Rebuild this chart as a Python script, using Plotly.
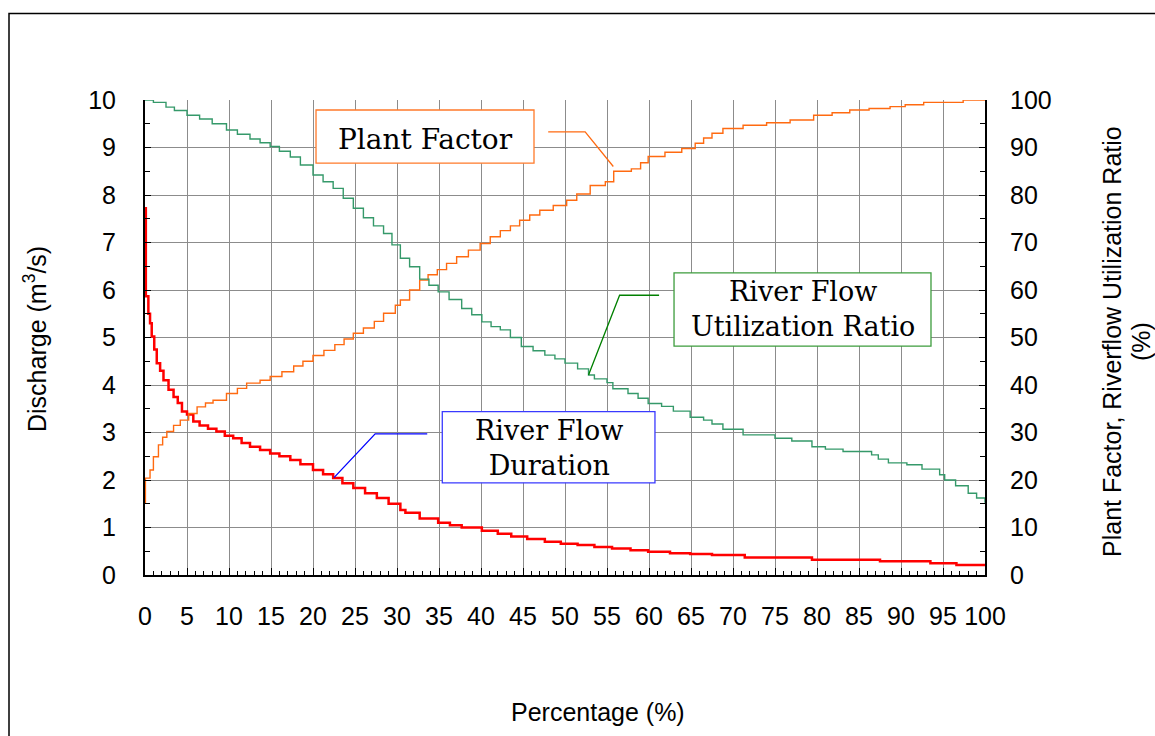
import plotly.graph_objects as go

# ---- data -------------------------------------------------------------
# River flow duration curve: exceedance percentage vs discharge (m3/s)
flow_pct = [0, 0.1, 0.4, 0.6, 0.8, 1.1, 1.4, 1.8, 2.2, 2.8, 3.4, 3.9, 4.4, 5.0,
            5.75, 6.5, 7.5, 8.5, 9.5, 10.5, 11.5, 12.5, 13.7, 14.9, 16.0, 17.3,
            18.5, 20.0, 21.2, 22.4, 23.5, 24.8, 26.2, 27.6, 29.0, 30.4, 31.0,
            32.7, 34.9, 36.3, 37.7, 40.1, 42.0, 43.6, 45.5, 47.6, 49.5, 51.5,
            53.5, 55.6, 57.8, 59.9, 62.5, 64.9, 67.5, 71.4, 79.4, 87.5, 93.5,
            96.6, 100]
flow_q = [7.72, 5.87, 5.5, 5.3, 5.02, 4.75, 4.46, 4.3, 4.1, 3.9, 3.75, 3.62,
          3.44, 3.38, 3.23, 3.15, 3.08, 3.02, 2.93, 2.88, 2.78, 2.7, 2.63,
          2.56, 2.5, 2.42, 2.33, 2.21, 2.12, 2.04, 1.93, 1.83, 1.72, 1.62,
          1.5, 1.37, 1.31, 1.19, 1.1, 1.05, 1.0, 0.93, 0.87, 0.81, 0.76, 0.7,
          0.66, 0.63, 0.59, 0.56, 0.52, 0.49, 0.46, 0.44, 0.42, 0.37, 0.32,
          0.29, 0.25, 0.21, 0.21]

# Plant factor (%)
pf_pct = [0, 0.05, 0.6, 1.0, 1.6, 2.1, 2.6, 3.4, 4.2, 5.2, 6.2, 7.2, 8.1, 9.7,
          11.0, 12.1, 13.7, 14.9, 16.3, 17.7, 18.8, 20.0, 21.3, 22.6, 23.7,
          24.8, 26.0, 27.3, 28.4, 29.8, 30.4, 31.5, 32.7, 33.7, 34.8, 35.9,
          37.1, 38.5, 39.9, 41.1, 42.3, 43.5, 44.6, 45.8, 47.0, 48.6, 50.2,
          51.4, 53.0, 54.8, 55.8, 57.9, 59.0, 59.9, 61.9, 63.9, 65.5, 66.5,
          67.5, 68.8, 71.2, 74.0, 76.8, 79.6, 81.8, 83.9, 86.2, 88.7, 90.5,
          92.7, 97.4, 100]
pf_val = [15.1, 20.4, 22.1, 24.9, 27.4, 29.0, 30.2, 31.5, 32.6, 34.0, 35.4,
          36.2, 36.8, 38.2, 39.3, 40.4, 41.0, 41.8, 42.8, 44.0, 45.0, 46.2,
          47.3, 48.5, 49.7, 50.9, 52.0, 53.4, 55.1, 56.8, 57.9, 60.0, 62.1,
          63.2, 64.3, 65.6, 67.0, 68.4, 69.8, 71.2, 72.5, 73.5, 74.7, 75.8,
          76.8, 77.8, 78.9, 80.2, 82.0, 82.8, 85.0, 85.5, 86.8, 88.1, 89.0,
          89.8, 90.9, 92.0, 93.0, 94.0, 94.7, 95.2, 95.8, 96.8, 97.3, 97.9,
          98.2, 98.6, 99.0, 99.5, 100.0, 100.0]

# River flow utilization ratio (%)
ur_pct = [0, 1.0, 2.5, 3.5, 5.0, 6.5, 8.0, 9.7, 11.0, 12.5, 13.7, 14.9, 16.0,
          17.3, 18.5, 20.0, 21.2, 22.4, 23.6, 24.8, 26.0, 27.2, 28.4, 29.4,
          30.4, 31.5, 32.7, 33.8, 34.9, 36.2, 37.7, 38.9, 40.1, 41.2, 42.3,
          43.5, 44.8, 46.2, 47.6, 48.8, 50.0, 51.5, 52.8, 53.5, 55.0, 55.7,
          57.5, 58.7, 59.9, 61.5, 62.9, 64.9, 66.5, 67.5, 68.8, 71.2, 75.0,
          77.0, 79.4, 81.0, 83.1, 86.5, 87.3, 88.5, 90.7, 92.5, 94.6, 95.2,
          96.5, 98.0, 99.0, 100]
ur_val = [100, 99.5, 98.5, 97.8, 96.8, 96.0, 95.0, 93.7, 92.8, 91.8, 91.0,
          90.2, 89.2, 88.0, 86.3, 84.2, 82.8, 81.4, 79.3, 77.2, 75.2, 73.5,
          71.9, 69.5, 66.7, 64.9, 62.3, 61.0, 59.6, 58.0, 56.1, 54.8, 53.3,
          52.3, 51.6, 50.0, 48.1, 47.2, 46.3, 45.5, 44.6, 43.4, 42.1, 41.3,
          40.5, 39.2, 38.2, 37.2, 36.1, 35.5, 34.5, 33.2, 32.6, 31.8, 30.7,
          29.5, 28.8, 28.2, 27.0, 26.5, 26.0, 25.3, 24.4, 23.6, 23.2, 22.3,
          21.1, 20.0, 18.8, 17.2, 16.2, 15.2]

x_ticks = list(range(0, 101, 5))
left_ticks = list(range(0, 11))
right_ticks = list(range(0, 101, 10))

# ---- layout geometry ----------------------------------------------------
W, H = 1155, 736
L, R, T, B = 145, 170, 100, 161
PW, PH = W - L - R, H - T - B


def px(X):
    return (X - L) / PW


def py(Y):
    return (H - B - Y) / PH


SANS = "Liberation Sans, Arial, sans-serif"
SERIF = "DejaVu Serif, serif"
GRID = "#8c8c8c"

fig = go.Figure()
fig.add_trace(go.Scatter(x=flow_pct, y=flow_q, mode="lines", line_shape="hv",
                         line=dict(color="#ff0000", width=2.5),
                         name="River Flow Duration", yaxis="y"))
fig.add_trace(go.Scatter(x=pf_pct, y=pf_val, mode="lines", line_shape="hv",
                         line=dict(color="#ff6a10", width=1.4),
                         name="Plant Factor", yaxis="y2"))
fig.add_trace(go.Scatter(x=ur_pct, y=ur_val, mode="lines", line_shape="hv",
                         line=dict(color="#35996a", width=1.4),
                         name="River Flow Utilization Ratio", yaxis="y2"))

tickfont = dict(family=SANS, size=25, color="black")

fig.update_layout(
    width=W, height=H,
    margin=dict(l=L, r=R, t=T, b=B),
    paper_bgcolor="white", plot_bgcolor="white",
    showlegend=False,
    xaxis=dict(range=[0, 100], tickvals=x_ticks, ticks="inside", ticklen=7,
               tickcolor="black", tickwidth=1,
               showgrid=True, gridcolor=GRID, gridwidth=1,
               zeroline=False, showline=True, linecolor="black", linewidth=2,
               tickfont=tickfont, ticklabelstandoff=18,
               minor=dict(dtick=1, ticks="inside", ticklen=4,
                          tickcolor="black", showgrid=False)),
    yaxis=dict(range=[0, 10], tickvals=left_ticks, ticks="inside", ticklen=6,
               tickcolor="black", tickwidth=1,
               showgrid=True, gridcolor=GRID, gridwidth=1,
               zeroline=False, showline=True, linecolor="black", linewidth=2,
               tickfont=tickfont, ticklabelstandoff=22,
               minor=dict(dtick=0.5, ticks="inside", ticklen=5,
                          tickcolor="black", showgrid=False)),
    yaxis2=dict(range=[0, 100], tickvals=right_ticks, overlaying="y",
                side="right", ticks="inside", ticklen=6, tickcolor="black",
                showgrid=False, zeroline=False, showline=True,
                linecolor="black", linewidth=2,
                tickfont=tickfont, ticklabelstandoff=18,
                minor=dict(dtick=5, ticks="inside", ticklen=5,
                           tickcolor="black")),
)

shapes = []
# outer frame
shapes.append(dict(type="rect", xref="paper", yref="paper",
                   x0=px(9), x1=px(1175), y0=py(760), y1=py(13.5),
                   line=dict(color="black", width=1.5), layer="below"))

# label boxes and leader lines (data coordinates)
shapes.append(dict(type="rect", xref="x", yref="y", x0=20.36, x1=46.31,
                   y0=8.67, y1=9.79, fillcolor="white",
                   line=dict(color="#ff7a2a", width=1.3)))
shapes.append(dict(type="path", xref="x", yref="y2",
                   path="M 48.0,93.3 L 52.4,93.3 L 55.75,86.0",
                   line=dict(color="#ff6a10", width=1.3)))

shapes.append(dict(type="rect", xref="x", yref="y", x0=62.98, x1=93.57,
                   y0=4.82, y1=6.36, fillcolor="white",
                   line=dict(color="#3c9c3c", width=1.3)))
shapes.append(dict(type="path", xref="x", yref="y2",
                   path="M 61.2,58.9 L 56.5,58.9 L 52.8,42.1",
                   line=dict(color="#008000", width=1.3)))

shapes.append(dict(type="rect", xref="x", yref="y", x0=35.39, x1=60.71,
                   y0=1.94, y1=3.44, fillcolor="white",
                   line=dict(color="#3a3aff", width=1.3)))
shapes.append(dict(type="path", xref="x", yref="y",
                   path="M 33.6,2.97 L 27.4,2.97 L 22.5,2.05",
                   line=dict(color="#0000ff", width=1.3)))
fig.update_layout(shapes=shapes)

serif = dict(family=SERIF, size=28, color="black")
serif2 = dict(family=SERIF, size=27, color="black")
sans = dict(family=SANS, size=25, color="black")
annotations = [
    dict(text="Plant Factor", x=px(425), y=py(139), font=serif),
    dict(text="River Flow<br>Utilization Ratio", x=px(802.5), y=py(309),
         font=serif2),
    dict(text="River Flow<br>Duration", x=px(548.7), y=py(447.5),
         font=serif2),
    dict(text="Percentage (%)", x=px(598), y=py(712), font=sans),
    dict(text="Discharge (m<sup>3</sup>/s)", x=px(35), y=py(339),
         textangle=-90, font=sans),
    dict(text="Plant Factor, Riverflow Utilization Ratio", x=px(1112),
         y=py(342), textangle=-90, font=sans),
    dict(text="(%)", x=px(1141), y=py(342), textangle=-90, font=sans),
]
for a in annotations:
    a.update(xref="paper", yref="paper", showarrow=False,
             xanchor="center", yanchor="middle")
fig.update_layout(annotations=annotations)

fig.write_html("out.html")
